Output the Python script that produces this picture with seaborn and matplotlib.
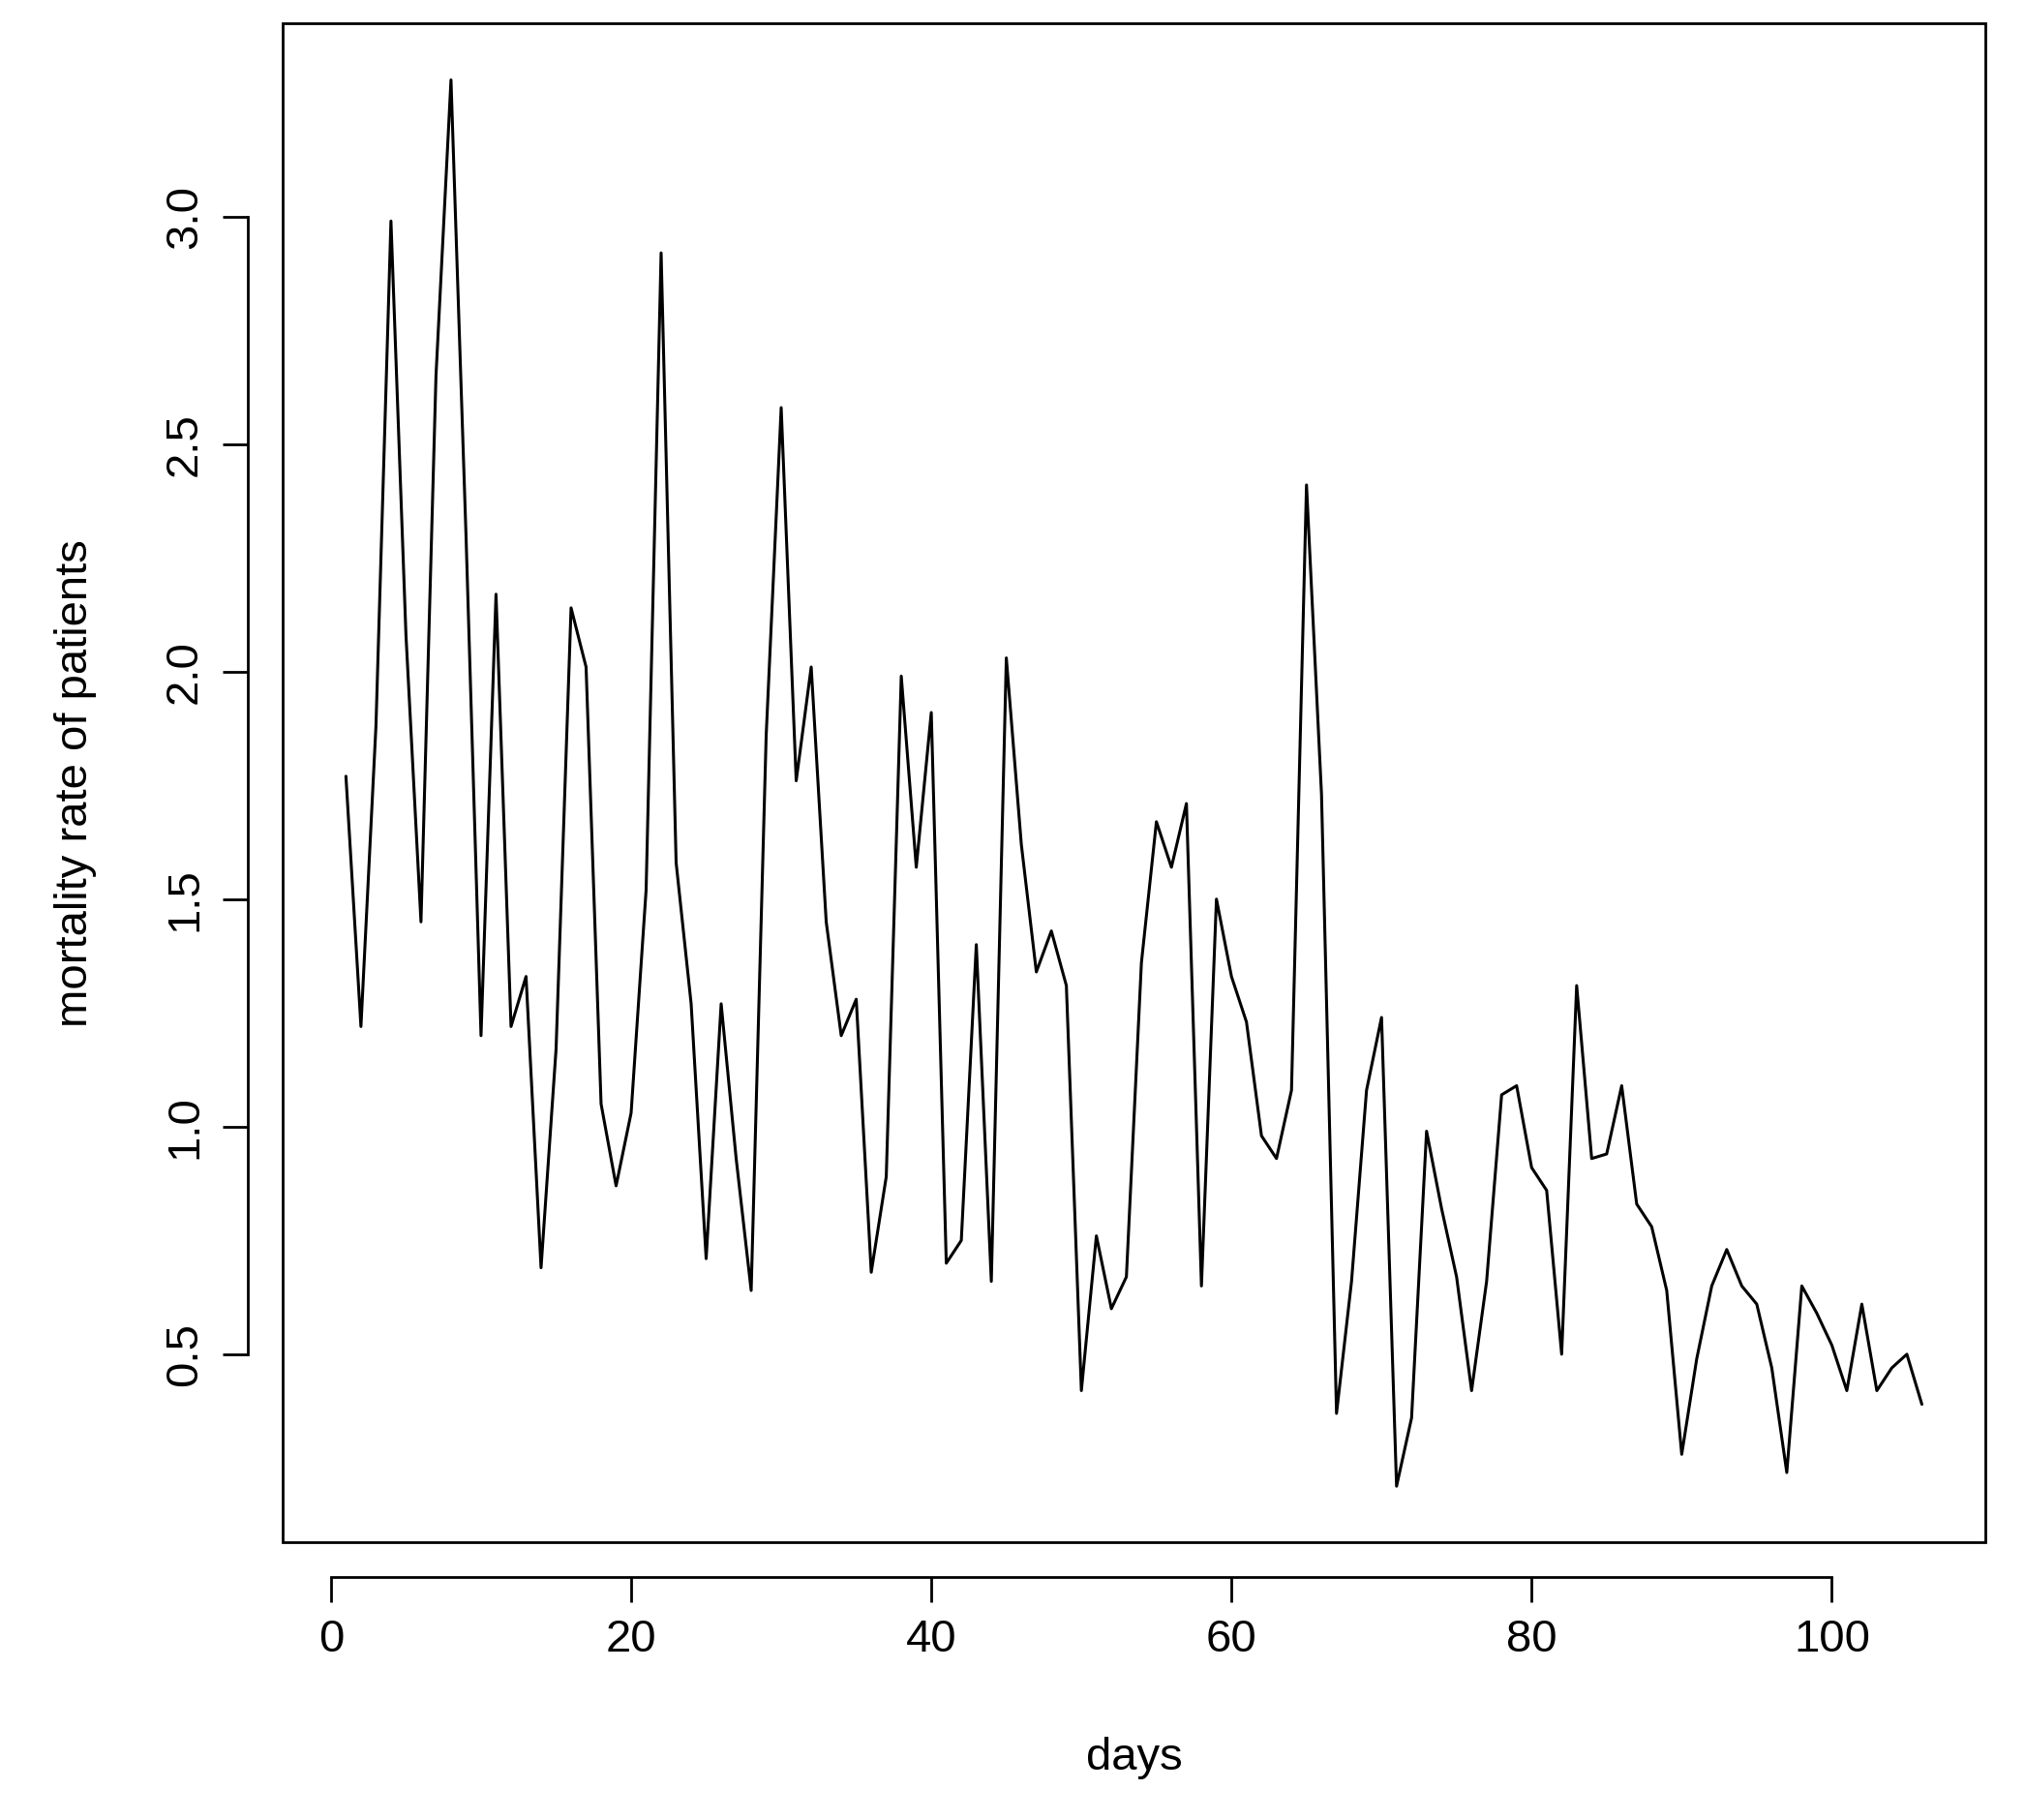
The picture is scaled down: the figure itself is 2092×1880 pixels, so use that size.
import numpy as np
import pandas as pd
import matplotlib
matplotlib.use('Agg')
import matplotlib.pyplot as plt
import seaborn as sns
from matplotlib.patches import Rectangle

days = list(range(1, 107))
mortality = [
    1.77, 1.22, 1.88, 2.99, 2.08, 1.45, 2.65, 3.30, 2.30, 1.20,
    2.17, 1.22, 1.33, 0.69, 1.17, 2.14, 2.01, 1.05, 0.87, 1.03,
    1.52, 2.92, 1.58, 1.27, 0.71, 1.27, 0.93, 0.64, 1.86, 2.58,
    1.76, 2.01, 1.45, 1.20, 1.28, 0.68, 0.89, 1.99, 1.57, 1.91,
    0.70, 0.75, 1.40, 0.66, 2.03, 1.62, 1.34, 1.43, 1.31, 0.42,
    0.76, 0.60, 0.67, 1.36, 1.67, 1.57, 1.71, 0.65, 1.50, 1.33,
    1.23, 0.98, 0.93, 1.08, 2.41, 1.73, 0.37, 0.66, 1.08, 1.24,
    0.21, 0.36, 0.99, 0.82, 0.67, 0.42, 0.66, 1.07, 1.09, 0.91,
    0.86, 0.50, 1.31, 0.93, 0.94, 1.09, 0.83, 0.78, 0.64, 0.28,
    0.49, 0.65, 0.73, 0.65, 0.61, 0.47, 0.24, 0.65, 0.59, 0.52,
    0.42, 0.61, 0.42, 0.47, 0.50, 0.39,
]
x_ticks = [0, 20, 40, 60, 80, 100]
y_ticks = [0.5, 1.0, 1.5, 2.0, 2.5, 3.0]

sns.set_style('white')
plt.rcParams['font.family'] = ['Liberation Sans', 'DejaVu Sans']

df = pd.DataFrame({'days': days, 'mortality': mortality})

fig = plt.figure(figsize=(20.92, 18.8), dpi=100)
ax = fig.add_axes([0.1397, 0.1525, 0.8405, 0.8345])
sns.lineplot(data=df, x='days', y='mortality', ax=ax, color='black', linewidth=2.2)

xr = max(days) - min(days)
yr = max(mortality) - min(mortality)
ax.set_xlim(min(days) - 0.04 * xr, max(days) + 0.04 * xr)
ax.set_ylim(min(mortality) - 0.04 * yr, max(mortality) + 0.04 * yr)

# box around plot region
ax.add_patch(Rectangle((0, 0), 1, 1, transform=ax.transAxes, fill=False,
                       edgecolor='black', linewidth=2, clip_on=False))
for s in ['top', 'right']:
    ax.spines[s].set_visible(False)
for s in ['left', 'bottom']:
    ax.spines[s].set_position(('outward', 26))
    ax.spines[s].set_linewidth(2)
    ax.spines[s].set_color('black')
ax.spines['bottom'].set_bounds(x_ticks[0], x_ticks[-1])
ax.spines['left'].set_bounds(y_ticks[0], y_ticks[-1])

ax.set_xticks(x_ticks)
ax.set_yticks(y_ticks)
ax.set_xticklabels([str(t) for t in x_ticks])
ax.set_yticklabels([f'{t:.1f}' for t in y_ticks], rotation=90, va='center')
ax.tick_params(axis='both', direction='out', length=19, width=2, labelsize=34,
               color='black', labelcolor='black', pad=12,
               bottom=True, left=True)

ax.set_xlabel('days', fontsize=34, labelpad=56, color='black')
ax.set_ylabel('mortality rate of patients', fontsize=34, labelpad=50, color='black')

fig.savefig('out.png', dpi=100)
plt.close(fig)
